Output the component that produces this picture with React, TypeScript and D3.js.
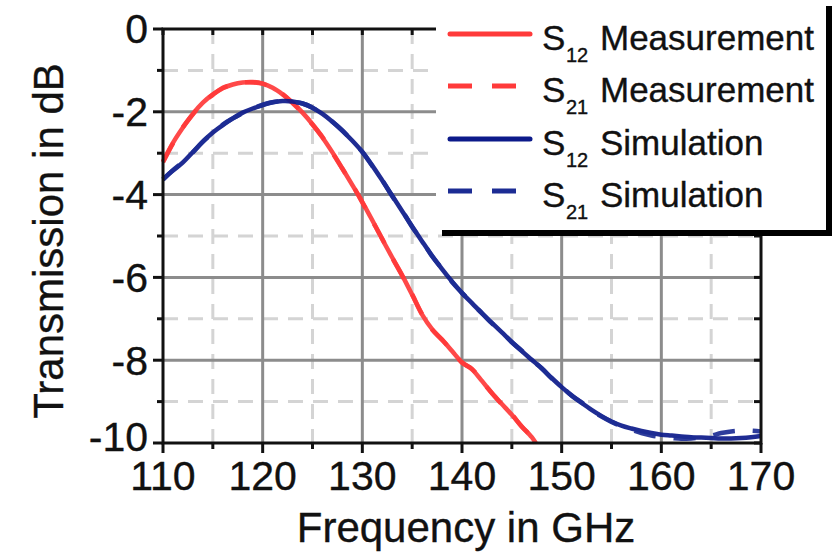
import React from "react";
import * as d3 from "d3";

const measFreq = [110,111,112,113,114,115,116,117,118,119,120,121,122,123,124,125,126,127,128,129,130,131,132,133,134,135,136,137,138,139,140,141,142,143,144,145,146,147,147.4];
const s12Meas = [-3.2,-2.75,-2.38,-2.05,-1.78,-1.58,-1.43,-1.34,-1.29,-1.28,-1.32,-1.42,-1.58,-1.78,-2.02,-2.3,-2.62,-2.98,-3.37,-3.77,-4.18,-4.62,-5.08,-5.52,-5.95,-6.42,-6.9,-7.25,-7.5,-7.78,-8.05,-8.22,-8.5,-8.8,-9.06,-9.32,-9.6,-9.86,-10.0];
const s21Meas = [-3.22,-2.76,-2.37,-2.06,-1.77,-1.59,-1.42,-1.35,-1.29,-1.29,-1.32,-1.43,-1.57,-1.79,-2.03,-2.31,-2.61,-2.99,-3.38,-3.76,-4.19,-4.63,-5.07,-5.53,-5.96,-6.41,-6.89,-7.26,-7.51,-7.77,-8.06,-8.21,-8.51,-8.79,-9.07,-9.31,-9.61,-9.85,-10.0];

const simFreq = [110,111,112,113,114,115,116,117,118,119,120,121,122,123,124,125,126,127,128,129,130,131,132,133,134,135,136,137,138,139,140,141,142,143,144,145,146,147,148,149,150,151,152,153,154,155,156,157,158,159,160,161,162,163,164,165,166,167,168,169,170];
const s12Sim = [-3.63,-3.42,-3.22,-2.97,-2.72,-2.5,-2.32,-2.16,-2.02,-1.92,-1.84,-1.77,-1.74,-1.75,-1.8,-1.9,-2.05,-2.24,-2.46,-2.7,-2.97,-3.3,-3.66,-4.03,-4.4,-4.77,-5.13,-5.48,-5.8,-6.1,-6.38,-6.62,-6.87,-7.1,-7.33,-7.56,-7.78,-7.99,-8.2,-8.43,-8.65,-8.85,-9.03,-9.2,-9.35,-9.48,-9.58,-9.65,-9.71,-9.76,-9.8,-9.82,-9.84,-9.86,-9.87,-9.88,-9.89,-9.89,-9.88,-9.86,-9.83];
const s21Sim = [-3.64,-3.41,-3.21,-2.98,-2.72,-2.51,-2.31,-2.16,-2.03,-1.92,-1.83,-1.77,-1.74,-1.76,-1.8,-1.9,-2.06,-2.24,-2.45,-2.71,-2.97,-3.31,-3.65,-4.04,-4.39,-4.78,-5.12,-5.49,-5.79,-6.11,-6.37,-6.63,-6.86,-7.11,-7.32,-7.57,-7.77,-8.0,-8.19,-8.44,-8.64,-8.86,-9.02,-9.21,-9.36,-9.49,-9.6,-9.68,-9.76,-9.82,-9.86,-9.88,-9.9,-9.89,-9.86,-9.82,-9.76,-9.72,-9.7,-9.7,-9.72];

const xMajor = [110,120,130,140,150,160,170];
const xMinor = [115,125,135,145,155,165];
const yMajor = [0,-2,-4,-6,-8,-10];
const yMinor = [-1,-3,-5,-7,-9];

const legendItems = [
  { sub: "12", label: "Measurement", color: "#ff3a3a", dash: "" },
  { sub: "21", label: "Measurement", color: "#ff3a3a", dash: "24 20" },
  { sub: "12", label: "Simulation", color: "#0c1a8a", dash: "" },
  { sub: "21", label: "Simulation", color: "#1c2c94", dash: "24 20" },
];

const W = 838, H = 553;
const L = 163, R = 761, T = 29, B = 443;
const FONT = "'Liberation Sans', Arial, sans-serif";

export default function App() {
  const x = d3.scaleLinear().domain([110, 170]).range([L, R]);
  const y = d3.scaleLinear().domain([-10, 0]).range([B, T]);
  const line = d3.line<[number, number]>().x(d => x(d[0])).y(d => y(d[1])).curve(d3.curveCatmullRom);
  const mk = (f: number[], v: number[]) => f.map((ff, i) => [ff, v[i]] as [number, number]);

  const series = [
    { d: mk(measFreq, s12Meas), color: "#ff3a3a", dash: "" },
    { d: mk(measFreq, s21Meas), color: "#ff3a3a", dash: "22 18" },
    { d: mk(simFreq, s12Sim), color: "#0c1a8a", dash: "" },
    { d: mk(simFreq, s21Sim), color: "#1c2c94", dash: "22 18" },
  ];

  const lgX = 436, lgY = 0, lgW = 390, lgH = 230;
  const rowBase = [50, 102, 155, 207];
  const txt = { fill: "#111", stroke: "#111", strokeWidth: 0.35 };

  return (
    <svg width={W} height={H} style={{ position: "absolute", left: 0, top: 0, background: "#fff" }} fontFamily={FONT}>
      <rect x={0} y={0} width={W} height={H} fill="#fff" />
      {/* minor grid */}
      {xMinor.map(v => (
        <line key={"xm" + v} x1={x(v)} x2={x(v)} y1={T} y2={B} stroke="#d4d4d4" strokeWidth={3} strokeDasharray="15 10" />
      ))}
      {yMinor.map(v => (
        <line key={"ym" + v} x1={L} x2={R} y1={y(v)} y2={y(v)} stroke="#d4d4d4" strokeWidth={3} strokeDasharray="15 10" />
      ))}
      {/* major grid */}
      {xMajor.slice(1, -1).map(v => (
        <line key={"xM" + v} x1={x(v)} x2={x(v)} y1={T} y2={B} stroke="#8c8c8c" strokeWidth={3} />
      ))}
      {yMajor.slice(1, -1).map(v => (
        <line key={"yM" + v} x1={L} x2={R} y1={y(v)} y2={y(v)} stroke="#8c8c8c" strokeWidth={3} />
      ))}
      {/* curves */}
      {series.map((s, i) => (
        <path key={"s" + i} d={line(s.d) || ""} fill="none" stroke={s.color} strokeWidth={4.5}
          strokeDasharray={s.dash || undefined} strokeLinejoin="round" opacity={0.92} />
      ))}
      {/* frame */}
      <rect x={L} y={T} width={R - L} height={B - T} fill="none" stroke="#111" strokeWidth={3} />
      {/* ticks bottom (outward) */}
      {xMajor.map(v => (
        <line key={"tb" + v} x1={x(v)} x2={x(v)} y1={B} y2={B + 10} stroke="#111" strokeWidth={3} />
      ))}
      {xMinor.map(v => (
        <line key={"tbm" + v} x1={x(v)} x2={x(v)} y1={B} y2={B + 6} stroke="#111" strokeWidth={3} />
      ))}
      {/* ticks top (inward) */}
      {[...xMajor, ...xMinor].map(v => (
        <line key={"tt" + v} x1={x(v)} x2={x(v)} y1={T} y2={T + 6} stroke="#111" strokeWidth={3} />
      ))}
      {/* ticks left (outward) */}
      {yMajor.map(v => (
        <line key={"tl" + v} x1={L - 10} x2={L} y1={y(v)} y2={y(v)} stroke="#111" strokeWidth={3} />
      ))}
      {yMinor.map(v => (
        <line key={"tlm" + v} x1={L - 6} x2={L} y1={y(v)} y2={y(v)} stroke="#111" strokeWidth={3} />
      ))}
      {/* ticks right (inward) */}
      {[...yMajor, ...yMinor].map(v => (
        <line key={"tr" + v} x1={R - 7} x2={R} y1={y(v)} y2={y(v)} stroke="#111" strokeWidth={3} />
      ))}
      {/* tick labels */}
      {xMajor.map(v => (
        <text key={"xl" + v} x={x(v)} y={490} textAnchor="middle" fontSize={41} {...txt}>{v}</text>
      ))}
      {yMajor.map(v => (
        <text key={"yl" + v} x={148} y={y(v) + (v === -10 ? -6 : 0)} dy="0.35em" textAnchor="end" fontSize={41} {...txt}>{v}</text>
      ))}
      {/* axis titles */}
      <text x={466} y={542} textAnchor="middle" fontSize={42} {...txt}>Frequency in GHz</text>
      <text transform={`translate(63,241) rotate(-90)`} textAnchor="middle" fontSize={42} {...txt}>Transmission in dB</text>
      {/* legend */}
      <rect x={lgX + 6} y={lgY + 6} width={lgW} height={lgH} fill="#000" />
      <rect x={lgX} y={lgY} width={lgW} height={lgH} fill="#fff" />
      {legendItems.map((it, i) => (
        <g key={"lg" + i}>
          {it.dash ? (
            <line x1={448} x2={532} y1={rowBase[i] - 16} y2={rowBase[i] - 16} stroke={it.color} strokeWidth={5}
              strokeDasharray={it.dash} />
          ) : (
            <line x1={450} x2={530} y1={rowBase[i] - 16} y2={rowBase[i] - 16} stroke={it.color} strokeWidth={5}
              strokeLinecap="round" />
          )}
          <text x={542} y={rowBase[i]} fontSize={35} {...txt}>
            S
            <tspan x={566} y={rowBase[i] + 12} fontSize={20}>{it.sub}</tspan>
            <tspan x={600} y={rowBase[i]}>{it.label}</tspan>
          </text>
        </g>
      ))}
    </svg>
  );
}
